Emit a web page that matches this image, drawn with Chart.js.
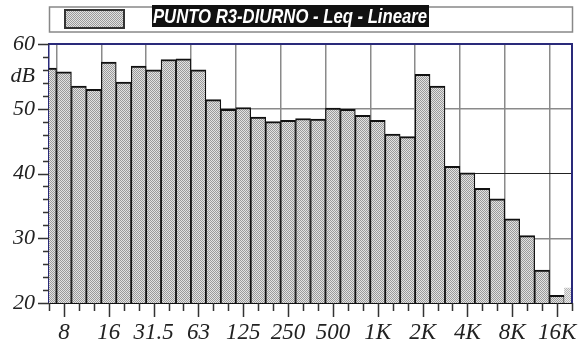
<!DOCTYPE html>
<html lang="it">
<head>
    <meta charset="UTF-8">
    <title>PUNTO R3-DIURNO - Leq - Lineare</title>
    <script src="https://cdn.jsdelivr.net/npm/chart.js@4.4.0/dist/chart.umd.min.js"></script>
    <style>
        body { margin: 0; background: #fff; }
    </style>
</head>
<body>
    <canvas id="myChart" width="588" height="349"></canvas>

    <script>
        // third-octave bands, 6.3 Hz .. 20 kHz
        const bands = ['6.3', '8', '10', '12.5', '16', '20', '25', '31.5', '40', '50', '63', '80', '100', '125', '160', '200',
            '250', '315', '400', '500', '630', '800', '1K', '1.25K', '1.6K', '2K', '2.5K', '3.15K', '4K', '5K', '6.3K',
            '8K', '10K', '12.5K', '16K', '20K'];
        const leq = [56.3, 55.7, 53.5, 53.0, 57.2, 54.1, 56.6, 56.0, 57.6, 57.7, 56.0, 51.4, 49.9, 50.2, 48.7, 48.0,
            48.2, 48.5, 48.4, 50.1, 49.9, 49.0, 48.2, 46.1, 45.7, 55.3, 53.5, 41.1, 40.1, 37.7, 36.1,
            33.0, 30.4, 25.1, 21.2, 22.3];
        const yTickLabels = { 20: '20', 30: '30', 40: '40', 50: '50', 55: 'dB', 60: '60' };
        const seriesName = 'PUNTO R3-DIURNO - Leq - Lineare';

        const navy = '#2a2a7a';
        const tickColor = '#333';
        const serif = "'Liberation Serif', 'Times New Roman', serif";

        const canvas = document.getElementById('myChart');
        const ctx = canvas.getContext('2d');

        // fine dotted gray fill like the original plot
        function makePattern(dark, light) {
            const pc = document.createElement('canvas');
            pc.width = 2;
            pc.height = 2;
            const p = pc.getContext('2d');
            p.fillStyle = light;
            p.fillRect(0, 0, 2, 2);
            p.fillStyle = dark;
            p.fillRect(0, 0, 1, 1);
            p.fillRect(1, 1, 1, 1);
            return ctx.createPattern(pc, 'repeat');
        }
        const barFill = makePattern('#9a9a9a', '#e2e2e2');
        const lastFill = makePattern('#b4b4b4', '#ececec');

        const frame = {
            id: 'frame',
            afterDatasetsDraw(chart) {
                const c = chart.ctx;
                const a = chart.chartArea;
                const xs = chart.scales.x;
                const ys = chart.scales.y;
                c.save();

                // top + right border
                c.strokeStyle = navy;
                c.lineWidth = 2;
                c.beginPath();
                c.moveTo(a.left, a.top);
                c.lineTo(a.right, a.top);
                c.lineTo(a.right, a.bottom);
                c.stroke();

                // tick marks
                c.strokeStyle = tickColor;
                c.lineWidth = 1.5;
                c.beginPath();
                for (let i = 0; i < bands.length; i++) {
                    const x = Math.round(xs.getPixelForValue(i)) + 0.5;
                    c.moveTo(x, a.bottom);
                    c.lineTo(x, a.bottom + (i % 3 === 1 ? 14 : 8));
                }
                for (let v = 20; v <= 60; v += 2) {
                    const y = Math.round(ys.getPixelForValue(v)) + 0.5;
                    c.moveTo(a.left, y);
                    c.lineTo(a.left - (v % 10 === 0 ? 11 : 6), y);
                }
                c.stroke();
                c.restore();
            },
            afterDraw(chart) {
                // legend box
                const c = chart.ctx;
                c.save();
                c.strokeStyle = '#888';
                c.lineWidth = 1.5;
                c.strokeRect(49.5, 7, 523, 25);

                c.fillStyle = barFill;
                c.fillRect(64, 9, 61, 20);
                c.strokeStyle = '#333';
                c.lineWidth = 2;
                c.strokeRect(65, 10, 59, 18);

                c.fillStyle = '#111';
                c.fillRect(152, 5, 277, 22);
                c.font = "italic bold 20px 'Liberation Sans', Arial, sans-serif";
                const w = c.measureText(seriesName).width;
                c.translate(153, 23);
                c.scale(274 / w, 1);
                c.fillStyle = '#fff';
                c.fillText(seriesName, 0, 0);
                c.restore();
            }
        };

        new Chart(ctx, {
            type: 'bar',
            data: {
                labels: bands,
                datasets: [{
                    label: seriesName,
                    data: leq,
                    backgroundColor: (c) => c.dataIndex === bands.length - 1 ? lastFill : barFill,
                    borderColor: '#111',
                    borderWidth: (c) => c.dataIndex === bands.length - 1 ? 0 : { top: 2, left: 1.25, right: 1.25, bottom: 0 },
                    borderSkipped: false,
                    barPercentage: 1,
                    categoryPercentage: 1
                }]
            },
            options: {
                responsive: false,
                animation: false,
                layout: {
                    padding: { top: 44, right: 16, left: 0, bottom: 0 }
                },
                scales: {
                    x: {
                        offset: false,
                        grid: {
                            drawTicks: false,
                            lineWidth: 1.5,
                            color: (c) => c.index % 3 === 1 ? '#8a8a8a' : 'transparent'
                        },
                        border: { color: '#111', width: 2 },
                        ticks: {
                            autoSkip: false,
                            maxRotation: 0,
                            padding: 16,
                            color: '#222',
                            font: { family: serif, style: 'italic', size: 23 },
                            callback: (v, i) => i % 3 === 1 ? bands[i] : ''
                        },
                        afterFit: (s) => { s.height = 46; }
                    },
                    y: {
                        min: 20,
                        max: 60,
                        grid: {
                            drawTicks: false,
                            lineWidth: (c) => c.tick && c.tick.value === 40 ? 1 : 1.5,
                            color: (c) => {
                                const v = c.tick ? c.tick.value : null;
                                if (v === 40) return '#222';
                                if (v === 30 || v === 50) return '#8a8a8a';
                                return 'transparent';
                            }
                        },
                        border: { color: navy, width: 1.5 },
                        ticks: {
                            stepSize: 1,
                            autoSkip: false,
                            padding: 14,
                            color: '#222',
                            font: { family: serif, style: 'italic', size: 22 },
                            callback: (v) => yTickLabels[v] || ''
                        },
                        afterFit: (s) => { s.width = 49; }
                    }
                },
                plugins: {
                    legend: { display: false },
                    tooltip: { enabled: false }
                }
            },
            plugins: [frame]
        });
    </script>
</body>
</html>
